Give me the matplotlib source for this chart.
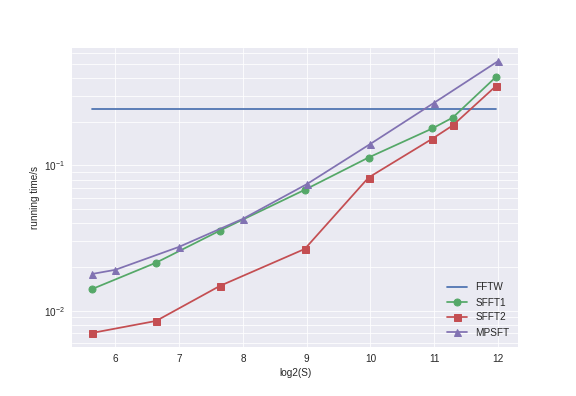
import numpy as np
import matplotlib
matplotlib.use('Agg')
import matplotlib.pyplot as plt

plt.style.use('seaborn-v0_8-darkgrid')
plt.rcParams['axes.prop_cycle'] = plt.cycler(color=['#4C72B0', '#55A868', '#C44E52', '#8172B2'])
plt.rcParams['lines.linewidth'] = 1.75
plt.rcParams['lines.markersize'] = 7
plt.rcParams['xtick.major.pad'] = 7
plt.rcParams['ytick.major.pad'] = 7

# data
x_fftw = [5.64, 11.97]
t_fftw = [0.244, 0.244]

x_sfft = [5.64, 6.64, 7.64, 8.97, 9.97, 10.97, 11.29, 11.97]
t_sfft1 = [0.0141, 0.0214, 0.0356, 0.0680, 0.1135, 0.180, 0.214, 0.409]
t_sfft2 = [0.00702, 0.00849, 0.0148, 0.0266, 0.0826, 0.153, 0.189, 0.354]

x_mpsft = [5.64, 6, 7, 8, 9, 10, 11, 12]
t_mpsft = [0.0179, 0.0191, 0.0275, 0.0429, 0.0743, 0.141, 0.271, 0.524]

fig = plt.figure(figsize=(8, 5.5), dpi=72)
fig.subplots_adjust(left=0.125, right=0.9, top=0.88, bottom=0.125)
plt.plot(x_fftw, t_fftw, label='FFTW')
plt.plot(x_sfft, t_sfft1, 'o-', label='SFFT1')
plt.plot(x_sfft, t_sfft2, 's-', label='SFFT2')
plt.plot(x_mpsft, t_mpsft, '^-', label='MPSFT')
plt.yscale('log')
plt.grid(True, which='both')
plt.xlabel('log2(S)')
plt.ylabel('running time/s')
plt.legend(loc='lower right')
plt.savefig('out.png', dpi=72)
